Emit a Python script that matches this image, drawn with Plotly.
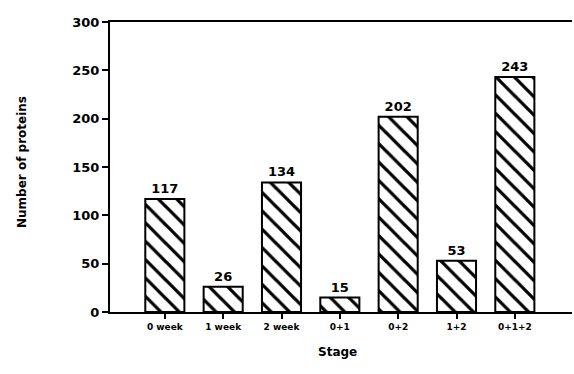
import plotly.graph_objects as go

stages = ["0 week", "1 week", "2 week", "0+1", "0+2", "1+2", "0+1+2"]
proteins = [117, 26, 134, 15, 202, 53, 243]
y_ticks = [0, 50, 100, 150, 200, 250, 300]

FONT = "DejaVu Sans"

fig = go.Figure()
fig.add_trace(go.Bar(
    x=list(range(len(stages))),
    y=proteins,
    width=0.67,
    text=[str(v) for v in proteins],
    textposition="outside",
    textfont=dict(family=FONT, size=13, color="black", weight="bold"),
    cliponaxis=False,
    marker=dict(
        color="white",
        line=dict(color="black", width=2),
        pattern=dict(shape="\\", fgcolor="black", bgcolor="white", fgopacity=1,
                     size=13, solidity=0.25),
    ),
))

fig.update_layout(
    width=574, height=374,
    margin=dict(l=110, r=2, t=22, b=62, autoexpand=False),
    paper_bgcolor="white", plot_bgcolor="white",
    showlegend=False,
    font=dict(family=FONT, color="black"),
    xaxis=dict(
        range=[-0.94, 6.98],
        automargin=False,
        tickmode="array",
        tickvals=list(range(len(stages))),
        ticktext=stages,
        tickfont=dict(family=FONT, size=9, color="black", weight="bold"),
        ticks="outside", ticklen=5, tickwidth=2, tickcolor="black",
        showline=True, linecolor="black", linewidth=2, mirror=True,
        showgrid=False, zeroline=False,
    ),
    yaxis=dict(
        range=[0, 300],
        automargin=False,
        tickmode="array",
        tickvals=y_ticks,
        ticktext=[str(v) for v in y_ticks],
        tickfont=dict(family=FONT, size=13, color="black", weight="bold"),
        ticks="outside", ticklen=6, tickwidth=2, tickcolor="black",
        showline=True, linecolor="black", linewidth=2, mirror=False,
        showgrid=False, zeroline=False,
    ),
    annotations=[
        dict(text="<b>Number of proteins</b>", xref="paper", yref="paper",
             x=(22 - 110) / 462, y=(312 - 162) / 290, xanchor="center", yanchor="middle",
             textangle=-90, showarrow=False, font=dict(family=FONT, size=12, color="black")),
        dict(text="<b>Stage</b>", xref="paper", yref="paper",
             x=(337 - 110) / 462, y=(312 - 352) / 290, xanchor="center", yanchor="middle",
             showarrow=False, font=dict(family=FONT, size=12, color="black")),
    ],
)

fig.write_html(
    "out.html",
    config={"responsive": False, "displayModeBar": False},
    post_script="document.body.style.margin='0';document.body.style.overflow='hidden';",
)
